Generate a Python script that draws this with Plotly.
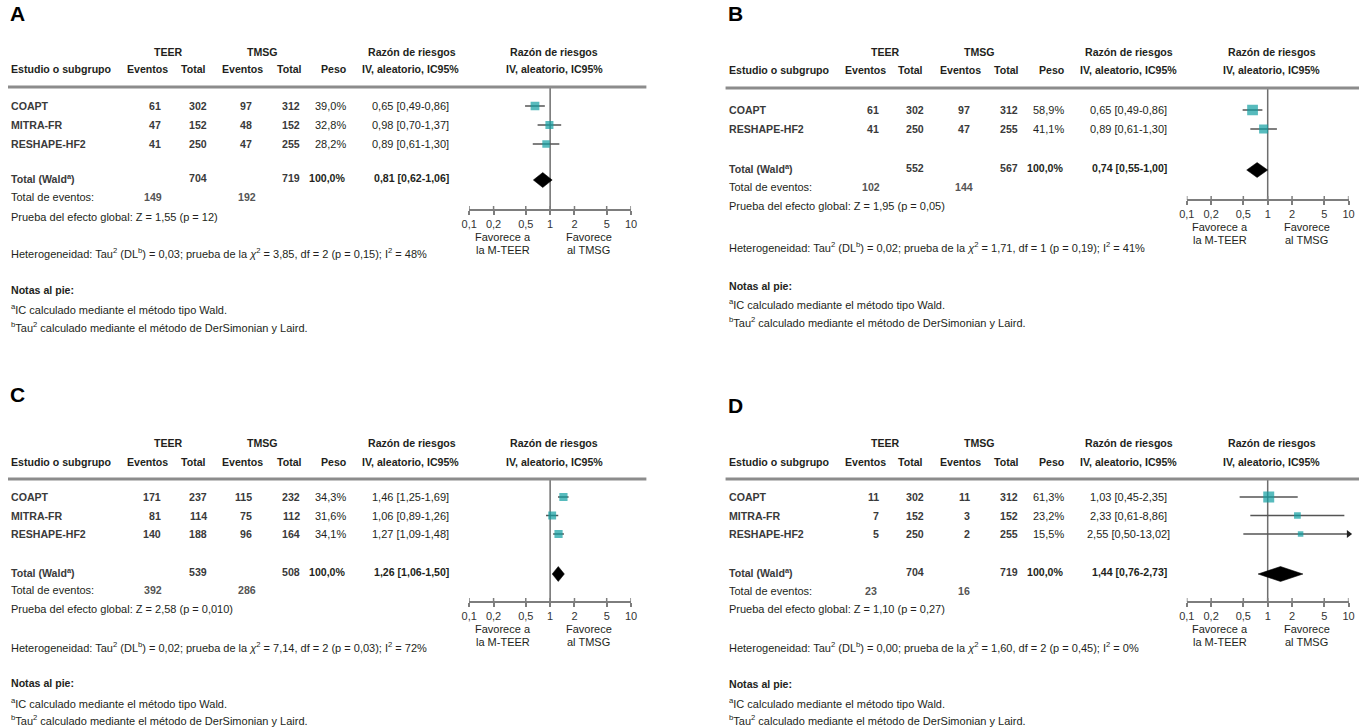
import plotly.graph_objects as go

W, H = 1365, 727
FONT = "Liberation Sans, Arial, sans-serif"
FS = 11          # regular text size
FSB = 10.6       # bold text size
TEAL = "#0f9ea1"
TXT = "#231f20"

# ---------------- DATA ----------------
# Panel A
studies_A = ["COAPT", "MITRA-FR", "RESHAPE-HF2"]
teer_ev_A = [61, 47, 41]
teer_n_A = [302, 152, 250]
tmsg_ev_A = [97, 48, 47]
tmsg_n_A = [312, 152, 255]
peso_A = [39.0, 32.8, 28.2]
rr_A = [0.65, 0.98, 0.89]
lo_A = [0.49, 0.70, 0.61]
hi_A = [0.86, 1.37, 1.30]
total_A = [0.81, 0.62, 1.06]          # RR, low, high
total_n_A = [704, 719]
total_ev_A = [149, 192]
z_A = "Z = 1,55 (p = 12)"
het_A = ["0,03", "3,85", "2", "0,15", "48"]

# Panel B
studies_B = ["COAPT", "RESHAPE-HF2"]
teer_ev_B = [61, 41]
teer_n_B = [302, 250]
tmsg_ev_B = [97, 47]
tmsg_n_B = [312, 255]
peso_B = [58.9, 41.1]
rr_B = [0.65, 0.89]
lo_B = [0.49, 0.61]
hi_B = [0.86, 1.30]
total_B = [0.74, 0.55, 1.00]
total_n_B = [552, 567]
total_ev_B = [102, 144]
z_B = "Z = 1,95 (p = 0,05)"
het_B = ["0,02", "1,71", "1", "0,19", "41"]

# Panel C
studies_C = ["COAPT", "MITRA-FR", "RESHAPE-HF2"]
teer_ev_C = [171, 81, 140]
teer_n_C = [237, 114, 188]
tmsg_ev_C = [115, 75, 96]
tmsg_n_C = [232, 112, 164]
peso_C = [34.3, 31.6, 34.1]
rr_C = [1.46, 1.06, 1.27]
lo_C = [1.25, 0.89, 1.09]
hi_C = [1.69, 1.26, 1.48]
total_C = [1.26, 1.06, 1.50]
total_n_C = [539, 508]
total_ev_C = [392, 286]
z_C = "Z = 2,58 (p = 0,010)"
het_C = ["0,02", "7,14", "2", "0,03", "72"]

# Panel D
studies_D = ["COAPT", "MITRA-FR", "RESHAPE-HF2"]
teer_ev_D = [11, 7, 5]
teer_n_D = [302, 152, 250]
tmsg_ev_D = [11, 3, 2]
tmsg_n_D = [312, 152, 255]
peso_D = [61.3, 23.2, 15.5]
rr_D = [1.03, 2.33, 2.55]
lo_D = [0.45, 0.61, 0.50]
hi_D = [2.35, 8.86, 13.02]
total_D = [1.44, 0.76, 2.73]
total_n_D = [704, 719]
total_ev_D = [23, 16]
z_D = "Z = 1,10 (p = 0,27)"
het_D = ["0,00", "1,60", "2", "0,45", "0"]

tick_vals = [0.1, 0.2, 0.5, 1, 2, 5, 10]
tick_text = ["0,1", "0,2", "0,5", "1", "2", "5", "10"]

# --------------- LAYOUT PARAMETERS (pixels) ---------------
panels = [
    dict(letter="A", dx=0, studies=studies_A, ev1=teer_ev_A, n1=teer_n_A, ev2=tmsg_ev_A, n2=tmsg_n_A,
         w=peso_A, rr=rr_A, lo=lo_A, hi=hi_A, tot=total_A, totn=total_n_A, totev=total_ev_A, z=z_A, het=het_A,
         y=dict(letter=14, h1=52, h2=69, line=87, row0=106, step=19, total=178, ev=197, pr=217, het=253,
                notas=290, n1=309, n2=327, axis=210, line_x1=645)),
    dict(letter="B", dx=725, studies=studies_B, ev1=teer_ev_B, n1=teer_n_B, ev2=tmsg_ev_B, n2=tmsg_n_B,
         w=peso_B, rr=rr_B, lo=lo_B, hi=hi_B, tot=total_B, totn=total_n_B, totev=total_ev_B, z=z_B, het=het_B,
         y=dict(letter=14, h1=52, h2=70, line=88, row0=110, step=19, total=168, ev=187, pr=206, het=247,
                notas=286, n1=304, n2=322, axis=200, line_x1=1365)),
    dict(letter="C", dx=0, studies=studies_C, ev1=teer_ev_C, n1=teer_n_C, ev2=tmsg_ev_C, n2=tmsg_n_C,
         w=peso_C, rr=rr_C, lo=lo_C, hi=hi_C, tot=total_C, totn=total_n_C, totev=total_ev_C, z=z_C, het=het_C,
         y=dict(letter=395, h1=443, h2=462, line=479, row0=497, step=18.5, total=572, ev=590, pr=609, het=647,
                notas=683, n1=703, n2=720, axis=602, line_x1=645)),
    dict(letter="D", dx=725, studies=studies_D, ev1=teer_ev_D, n1=teer_n_D, ev2=tmsg_ev_D, n2=tmsg_n_D,
         w=peso_D, rr=rr_D, lo=lo_D, hi=hi_D, tot=total_D, totn=total_n_D, totev=total_ev_D, z=z_D, het=het_D,
         y=dict(letter=406, h1=443, h2=462, line=479, row0=497, step=18.5, total=572, ev=591, pr=609, het=647,
                notas=684, n1=703, n2=720, axis=602, line_x1=1365)),
]

# column x positions (panel A; others shifted by dx)
COL = dict(name=2, ev1=156, n1=202, ev2=248, n2=296, peso=343, rr=407,
           teer=162, tmsg=257, h_ev1=141, h_n1=187, h_ev2=237, h_n2=284, h_peso=330,
           fp=552, fav1=500, fav2=587, plot0=466, plot1=629.5)


def fmt(v, d=2):
    return f"{v:.{d}f}".replace(".", ",")


fig = go.Figure()
annotations = []
shapes = []


def ann(x, y, text, anchor="left", size=FS, color=TXT, family=FONT):
    annotations.append(dict(x=x / W, y=1 - y / H, xref="paper", yref="paper", text=text,
                            showarrow=False, xanchor=anchor, align=anchor, yanchor="middle",
                            borderpad=0,
                            font=dict(family=family, size=size, color=color)))


layout_axes = {}
for i, p in enumerate(panels):
    dx = p["dx"]
    Y = p["y"]
    ax = "" if i == 0 else str(i + 1)
    xname, yname = "x" + ax, "y" + ax
    c = {k: v + dx for k, v in COL.items()}

    # letter
    ann(c["name"] - 1, Y["letter"], f"<b>{p['letter']}</b>", size=21, color="#000")
    # headers
    ann(c["teer"], Y["h1"], "<b>TEER</b>", "center", size=FSB)
    ann(c["tmsg"], Y["h1"], "<b>TMSG</b>", "center", size=FSB)
    ann(c["rr"] + 1, Y["h1"], "<b>Razón de riesgos</b>", "center", size=FSB)
    ann(c["fp"], Y["h1"], "<b>Razón de riesgos</b>", "center", size=FSB)
    ann(c["name"], Y["h2"], "<b>Estudio o subgrupo</b>", "left", size=FSB)
    ann(c["h_ev1"], Y["h2"], "<b>Eventos</b>", "center", size=FSB)
    ann(c["h_n1"], Y["h2"], "<b>Total</b>", "center", size=FSB)
    ann(c["h_ev2"], Y["h2"], "<b>Eventos</b>", "center", size=FSB)
    ann(c["h_n2"], Y["h2"], "<b>Total</b>", "center", size=FSB)
    ann(c["peso"] + 1, Y["h2"], "<b>Peso</b>", "right", size=FSB)
    ann(c["rr"], Y["h2"], "<b>IV, aleatorio, IC95%</b>", "center", size=FSB)
    ann(c["fp"], Y["h2"], "<b>IV, aleatorio, IC95%</b>", "center", size=FSB)

    # header rule
    shapes.append(dict(type="line", xref="paper", yref="paper", x0=dx / W, x1=Y["line_x1"] / W,
                       y0=1 - Y["line"] / H, y1=1 - Y["line"] / H, line=dict(color="#8c8c8c", width=3)))

    rows_y = [Y["row0"] + k * Y["step"] for k in range(len(p["studies"]))]
    for k, s in enumerate(p["studies"]):
        yy = rows_y[k]
        ann(c["name"], yy, f"<b>{s}</b>", "left", size=FSB, color="#3a3a3a")
        ann(c["ev1"], yy, f"<b>{p['ev1'][k]}</b>", "right", size=FSB, color="#3a3a3a")
        ann(c["n1"], yy, f"<b>{p['n1'][k]}</b>", "right", size=FSB, color="#3a3a3a")
        ann(c["ev2"], yy, f"<b>{p['ev2'][k]}</b>", "right", size=FSB, color="#3a3a3a")
        ann(c["n2"], yy, f"<b>{p['n2'][k]}</b>", "right", size=FSB, color="#3a3a3a")
        ann(c["peso"], yy, fmt(p["w"][k], 1) + "%", "right")
        ann(c["rr"], yy, f"{fmt(p['rr'][k])} [{fmt(p['lo'][k])}-{fmt(p['hi'][k])}]", "center")

    # total row
    ann(c["name"], Y["total"], "<b>Total (Wald<sup>a</sup>)</b>", "left", size=FSB, color="#3a3a3a")
    ann(c["n1"], Y["total"], f"<b>{p['totn'][0]}</b>", "right", size=FSB, color="#3a3a3a")
    ann(c["n2"], Y["total"], f"<b>{p['totn'][1]}</b>", "right", size=FSB, color="#3a3a3a")
    ann(c["peso"], Y["total"], "<b>100,0%</b>", "right", size=FSB)
    t = p["tot"]
    ann(c["rr"] + 1, Y["total"], f"<b>{fmt(t[0])} [{fmt(t[1])}-{fmt(t[2])}]</b>", "center", size=FSB)
    ann(c["name"], Y["ev"], "Total de eventos:", "left")
    ann(c["ev1"] - 9, Y["ev"], f"<b>{p['totev'][0]}</b>", "center", size=FSB, color="#555")
    ann(c["ev2"] - 7, Y["ev"], f"<b>{p['totev'][1]}</b>", "center", size=FSB, color="#555")
    ann(c["name"], Y["pr"], "Prueba del efecto global: " + p["z"], "left")
    h = p["het"]
    ann(c["name"], Y["het"],
        f"Heterogeneidad: Tau<sup>2</sup> (DL<sup>b</sup>) = {h[0]}; prueba de la <i>χ</i><sup>2</sup> = {h[1]}, "
        f"df = {h[2]} (p = {h[3]}); I<sup>2</sup> = {h[4]}%", "left")
    ann(c["name"], Y["notas"], "<b>Notas al pie:</b>", "left", size=FSB)
    ann(c["name"], Y["n1"], "<sup>a</sup>IC calculado mediante el método tipo Wald.", "left", size=FS)
    ann(c["name"], Y["n2"], "<sup>b</sup>Tau<sup>2</sup> calculado mediante el método de DerSimonian y Laird.",
        "left", size=FS)

    # forest plot axes
    layout_axes["xaxis" + ax] = dict(type="log", range=[-1, 1], domain=[c["plot0"] / W, c["plot1"] / W],
                                     anchor="free", position=1 - Y["axis"] / H,
                                     showline=True, linecolor="#7d7d7d", linewidth=2,
                                     ticks="outside", ticklen=4, tickwidth=1.5, tickcolor="#7d7d7d",
                                     tickvals=tick_vals, ticktext=tick_text, showgrid=False, zeroline=False,
                                     tickfont=dict(family=FONT, size=FS, color="#333"), fixedrange=True)
    layout_axes["yaxis" + ax] = dict(range=[H, 0], domain=[0, 1], anchor=xname, visible=False,
                                     showgrid=False, fixedrange=True)
    # upper half of ticks
    for tv in tick_vals:
        shapes.append(dict(type="line", xref=xname, yref=yname, x0=tv, x1=tv, y0=Y["axis"] - 4, y1=Y["axis"],
                           line=dict(color="#7d7d7d", width=1.5)))
    ann(c["fav1"], Y["axis"] + 27, "Favorece a", "center")
    ann(c["fav1"], Y["axis"] + 40, "la M-TEER", "center")
    ann(c["fav2"], Y["axis"] + 27, "Favorece", "center")
    ann(c["fav2"], Y["axis"] + 40, "al TMSG", "center")

    # vertical null line
    fig.add_trace(go.Scatter(x=[1, 1], y=[Y["line"], Y["axis"]], mode="lines",
                             line=dict(color="#6e6e6e", width=1.5), xaxis=xname, yaxis=yname,
                             showlegend=False, hoverinfo="skip"))
    # CIs
    for k in range(len(p["studies"])):
        fig.add_trace(go.Scatter(x=[p["lo"][k], p["hi"][k]], y=[rows_y[k], rows_y[k]], mode="lines",
                                 line=dict(color="#555", width=1.5), xaxis=xname, yaxis=yname,
                                 showlegend=False, hoverinfo="skip"))
        if p["hi"][k] > tick_vals[-1]:
            fig.add_trace(go.Scatter(x=[tick_vals[-1]], y=[rows_y[k]], mode="markers",
                                     marker=dict(symbol="triangle-right", size=7, color="#222"),
                                     xaxis=xname, yaxis=yname, cliponaxis=False,
                                     showlegend=False, hoverinfo="skip"))
    # squares
    fig.add_trace(go.Scatter(x=p["rr"], y=rows_y, mode="markers",
                             marker=dict(symbol="square", color=TEAL,
                                         size=[1.4 * (w ** 0.5) for w in p["w"]], line=dict(width=0)),
                             xaxis=xname, yaxis=yname, showlegend=False, hoverinfo="skip"))
    # diamond
    yt = Y["total"] + 2
    fig.add_trace(go.Scatter(x=[t[1], t[0], t[2], t[0], t[1]], y=[yt, yt - 7.5, yt, yt + 7.5, yt],
                             mode="lines", fill="toself", fillcolor="#000", line=dict(color="#000", width=0.5),
                             xaxis=xname, yaxis=yname, showlegend=False, hoverinfo="skip"))

fig.update_layout(width=W, height=H, margin=dict(l=0, r=0, t=0, b=0), paper_bgcolor="white",
                  plot_bgcolor="rgba(0,0,0,0)", annotations=annotations, shapes=shapes, showlegend=False,
                  **layout_axes)
fig.write_html("out.html", config={"displayModeBar": False},
               post_script="document.body.style.margin='0px';document.body.style.overflow='hidden';")
